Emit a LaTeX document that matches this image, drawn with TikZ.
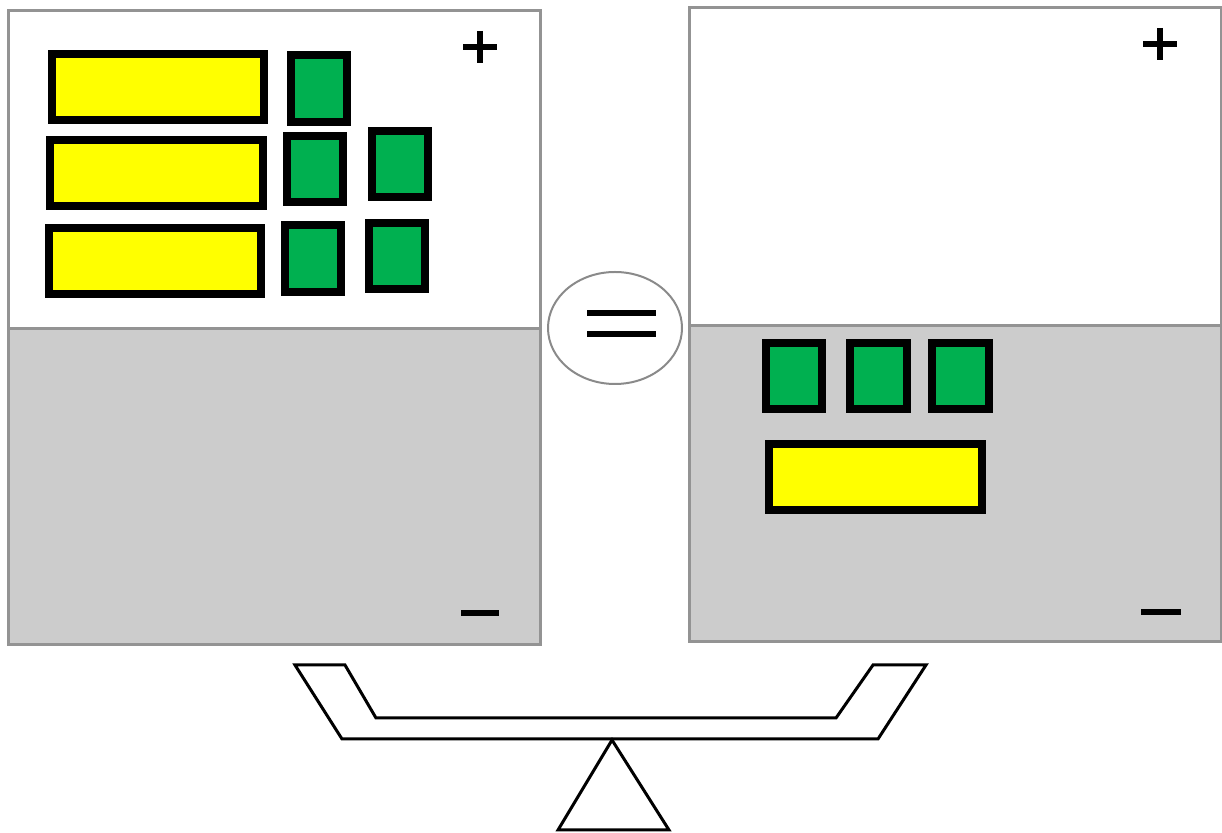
\documentclass[tikz,border=0pt]{standalone}
\usetikzlibrary{calc}
\definecolor{tileyellow}{HTML}{FFFF00}
\definecolor{tilegreen}{HTML}{00B050}
\definecolor{negzone}{HTML}{CCCCCC}
\definecolor{panelline}{HTML}{939393}
\definecolor{eqline}{HTML}{8A8A8A}
\tikzset{
  ytile/.style={fill=tileyellow, draw=black, line width=4pt},
  gtile/.style={fill=tilegreen, draw=black, line width=4pt},
  panelpos/.style={fill=white, draw=panelline, line width=1.5pt},
  panelneg/.style={fill=negzone, draw=panelline, line width=1.5pt},
  signbar/.style={draw=black, line width=3pt},
  eqbar/.style={draw=black, line width=3pt},
  beam/.style={draw=black, line width=1.5pt, line join=miter},
}
\begin{document}
\begin{tikzpicture}[x=0.5pt, y=-0.5pt]
\useasboundingbox (0,0) rectangle (1222,833);
% equal circle
\draw[draw=eqline, line width=1pt] (615,328) ellipse [x radius=33.5pt, y radius=28pt];
\draw[eqbar] (587,313) -- (656,313);
\draw[eqbar] (587,334) -- (656,334);
% left panel
\draw[panelpos] (8,11) rectangle (540,329);
\draw[panelneg] (8,329) rectangle (540,645);
% right panel
\draw[panelpos] (689,8) rectangle (1221,326);
\draw[panelneg] (689,326) rectangle (1221,642);
% signs
\draw[signbar] (463,47) -- (497,47) (480,31) -- (480,63);
\draw[signbar] (1143,44) -- (1177,44) (1160,28) -- (1160,60);
\draw[signbar] (461,613) -- (499,613);
\draw[signbar] (1141,612) -- (1181,612);
% left tiles
\draw[ytile] (52,54) rectangle (264,120);
\draw[gtile] (291,55) rectangle (347,122);
\draw[ytile] (50,140) rectangle (263,206);
\draw[gtile] (287,136) rectangle (343,202);
\draw[gtile] (372,131) rectangle (428,197);
\draw[ytile] (49,228) rectangle (261,294);
\draw[gtile] (285,225) rectangle (341,292);
\draw[gtile] (369,223) rectangle (425,289);
% right tiles
\draw[gtile] (766,343) rectangle (822,409);
\draw[gtile] (850,343) rectangle (907,409);
\draw[gtile] (932,343) rectangle (989,409);
\draw[ytile] (769,444) rectangle (982,510);
% balance
\draw[beam] (295,665) -- (345,665) -- (376,718) -- (836,718) -- (873,665) -- (926,665) -- (878,739) -- (342,739) -- cycle;
\draw[beam] (612,740) -- (558,830) -- (669,830) -- cycle;
\end{tikzpicture}
\end{document}
